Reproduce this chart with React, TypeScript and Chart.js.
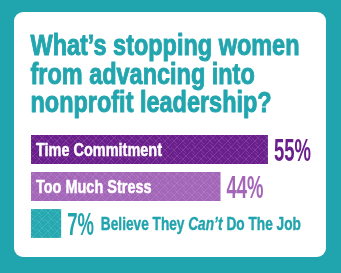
import React, { useEffect, useRef } from "react";
import { Chart, registerables } from "chart.js";

Chart.register(...registerables);

const titleLines = ["What’s stopping women", "from advancing into", "nonprofit leadership?"];
const categories = ["Time Commitment", "Too Much Stress", "Believe They Can’t Do The Job"];
const emphasis = ["", "", "Can’t"];
const values = [55, 44, 7];
const valueLabels = ["55%", "44%", "7%"];
const barColors = ["#6a1f8c", "#a466b8", "#25a8b0"];
const labelColors = ["#6a1f8c", "#a466b8", "#21a4ad"];
const xMax = 65;

const BG_TEAL = "#20a4ad";
const TITLE_COLOR = "#22a5ae";
const SANS = '"Liberation Sans", Arial, sans-serif';

function makePattern(color: string): CanvasPattern | string {
  const c = document.createElement("canvas");
  c.width = 9;
  c.height = 9;
  const g = c.getContext("2d");
  if (!g) return color;
  g.fillStyle = color;
  g.fillRect(0, 0, 9, 9);
  g.strokeStyle = "rgba(255,255,255,0.13)";
  g.lineWidth = 1;
  g.beginPath();
  g.moveTo(0, 9);
  g.lineTo(9, 0);
  g.moveTo(-1, 1);
  g.lineTo(1, -1);
  g.moveTo(8, 10);
  g.lineTo(10, 8);
  g.moveTo(0, 3);
  g.lineTo(6, 9);
  g.moveTo(3, 0);
  g.lineTo(9, 6);
  g.stroke();
  const p = g.createPattern(c, "repeat");
  return p || color;
}

function drawScaled(
  ctx: CanvasRenderingContext2D,
  t: string,
  x: number,
  y: number,
  sx: number,
  stroke = 0
): number {
  ctx.save();
  ctx.translate(x, y);
  ctx.scale(sx, 1);
  ctx.fillText(t, 0, 0);
  if (stroke > 0) {
    ctx.strokeStyle = ctx.fillStyle as string;
    ctx.lineWidth = stroke;
    ctx.lineJoin = "round";
    ctx.strokeText(t, 0, 0);
  }
  ctx.restore();
  return ctx.measureText(t).width * sx;
}

const decor = {
  id: "decor",
  beforeDraw(chart: any) {
    const ctx: CanvasRenderingContext2D = chart.ctx;
    const W = chart.width;
    const H = chart.height;
    ctx.save();
    ctx.fillStyle = BG_TEAL;
    ctx.fillRect(0, 0, W, H);
    ctx.fillStyle = "#ffffff";
    ctx.beginPath();
    ctx.roundRect(14, 12, 312, 245, 9);
    ctx.fill();

    ctx.fillStyle = TITLE_COLOR;
    ctx.font = `bold 30px ${SANS}`;
    ctx.textBaseline = "alphabetic";
    ctx.textAlign = "left";
    const w0 = ctx.measureText(titleLines[0]).width;
    const sx = 269 / w0;
    titleLines.forEach((t, i) => {
      drawScaled(ctx, t, 30.5, 55 + i * 28.5, sx, 1);
    });
    ctx.restore();
  },
  afterDatasetsDraw(chart: any) {
    const ctx: CanvasRenderingContext2D = chart.ctx;
    const meta = chart.getDatasetMeta(0);
    ctx.save();
    ctx.textBaseline = "alphabetic";
    ctx.textAlign = "left";
    ctx.font = `bold 32px ${SANS}`;
    const psx = 37 / ctx.measureText(valueLabels[0]).width;
    ctx.font = `bold 18px ${SANS}`;
    const lsx = 126 / ctx.measureText(categories[0]).width;
    meta.data.forEach((bar: any, i: number) => {
      const { x, y, base } = bar.getProps(["x", "y", "base"], true);
      const inside = values[i] > 20;
      ctx.font = `bold 32px ${SANS}`;
      ctx.fillStyle = labelColors[i];
      const px = x + 6;
      const pEnd = px + drawScaled(ctx, valueLabels[i], px, y + 11.5, psx);
      if (inside) {
        ctx.font = `bold 18px ${SANS}`;
        ctx.fillStyle = "#ffffff";
        drawScaled(ctx, categories[i], base + 5, y + 6.5, lsx, 0.5);
      } else {
        ctx.fillStyle = labelColors[i];
        const text = categories[i];
        const em = emphasis[i];
        const parts: { t: string; it: boolean }[] = [];
        if (em && text.includes(em)) {
          const k = text.indexOf(em);
          parts.push({ t: text.slice(0, k), it: false });
          parts.push({ t: em, it: true });
          parts.push({ t: text.slice(k + em.length), it: false });
        } else {
          parts.push({ t: text, it: false });
        }
        let total = 0;
        parts.forEach((p) => {
          ctx.font = `${p.it ? "italic " : ""}bold 18px ${SANS}`;
          total += ctx.measureText(p.t).width;
        });
        const tsx = Math.min(lsx, 200 / total);
        let cx = pEnd + 7;
        parts.forEach((p) => {
          ctx.font = `${p.it ? "italic " : ""}bold 18px ${SANS}`;
          cx += drawScaled(ctx, p.t, cx, y + 6.5, tsx, 0.4);
        });
      }
    });
    ctx.restore();
  },
};

export default function App() {
  const ref = useRef<HTMLCanvasElement | null>(null);
  useEffect(() => {
    if (!ref.current) return;
    const chart = new Chart(ref.current, {
      type: "bar",
      data: {
        labels: categories,
        datasets: [
          {
            data: values,
            backgroundColor: barColors.map((c) => makePattern(c)) as any,
            borderWidth: 0,
            barPercentage: 0.78,
            categoryPercentage: 1,
          },
        ],
      },
      options: {
        indexAxis: "y",
        responsive: false,
        animation: false,
        devicePixelRatio: 1,
        layout: { padding: { left: 31, right: 30, top: 131, bottom: 31 } },
        scales: {
          x: { display: false, min: 0, max: xMax },
          y: { display: false },
        },
        plugins: {
          legend: { display: false },
          tooltip: { enabled: false },
          title: { display: false },
        },
      },
      plugins: [decor],
    });
    return () => chart.destroy();
  }, []);
  return (
    <div style={{ position: "fixed", left: 0, top: 0, width: 341, height: 273, background: BG_TEAL }}>
      <canvas ref={ref} width={341} height={273} style={{ display: "block", width: 341, height: 273 }} />
    </div>
  );
}
